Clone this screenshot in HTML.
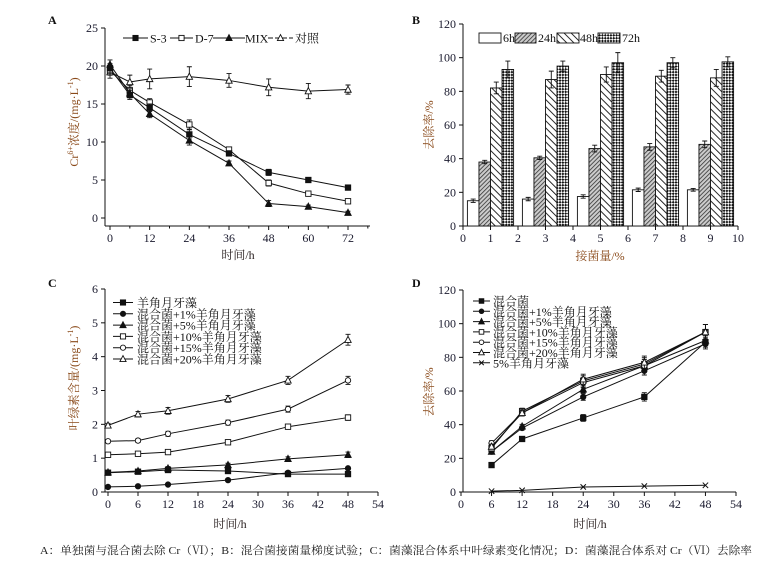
<!DOCTYPE html>
<html><head><meta charset="utf-8"><style>
html,body{margin:0;padding:0;background:#fff;}
svg{display:block;font-family:"Liberation Serif","Noto Serif CJK SC",serif;}
.tk{font-size:12px;fill:#1a1a2e;}
.ttl{font-size:12px;fill:#8a4a1a;}
.xttl{font-size:12px;fill:#2a2020;}
.lg{font-size:12px;fill:#111;}
</style></head><body>
<svg id="fig" width="771" height="562" viewBox="0 0 771 562" xmlns="http://www.w3.org/2000/svg">
<defs>
<pattern id="p24" patternUnits="userSpaceOnUse" width="3" height="3" patternTransform="rotate(45)"><rect width="3" height="3" fill="#ccc"/><line x1="0" y1="0" x2="0" y2="3" stroke="#333" stroke-width="1.6"/></pattern>
<pattern id="p48" patternUnits="userSpaceOnUse" width="5" height="5" patternTransform="rotate(-45)"><rect width="5" height="5" fill="#fff"/><line x1="0" y1="0" x2="0" y2="5" stroke="#111" stroke-width="1.8"/></pattern>
<pattern id="p72" patternUnits="userSpaceOnUse" width="4" height="4" patternTransform="rotate(45)"><rect width="4" height="4" fill="#fff"/><rect width="2" height="2" fill="#111"/><rect x="2" y="2" width="2" height="2" fill="#111"/></pattern>
</defs>
<g id="root"></g>
<text x="40" y="554" font-size="11" fill="#222" textLength="712" lengthAdjust="spacingAndGlyphs">A：单独菌与混合菌去除 Cr（Ⅵ）；B：混合菌接菌量梯度试验；C：菌藻混合体系中叶绿素变化情况；D：菌藻混合体系对 Cr（Ⅵ）去除率</text>
</svg>
<script>
// ---- Panel A data ----
const aTimes=[0,6,12,24,36,48,60,72];
const aS3=[19.7,16.2,14.5,11,8.5,6,5,4];
const aD7=[19.4,16.8,15.2,12.3,9,4.6,3.2,2.2];
const aMIX=[20.2,16.4,13.7,10.2,7.2,1.9,1.5,0.7];
const aCtrl=[19.2,17.9,18.3,18.6,18.1,17.2,16.7,16.9];
const aCtrlErr=[0.8,0.9,1.3,1.3,0.9,1.1,1,0.6];
const aErr=[0.6,0.6,0.5,0.6,0.3,0.4,0.2,0.2];
const aXTicks=[0,12,24,36,48,60,72];
const aYTicks=[0,5,10,15,20,25];
// ---- Panel B data ----
const bGroups=[1,3,5,7,9];
const b6=[15,16,17.5,21.5,21.5];
const b24=[38,40.5,46,47,48.5];
const b48=[82,87,90,89,88];
const b72=[93,95,97,97,97.5];
const b6e=[1,1,1,1,0.8];
const b24e=[1,1,2,2,2];
const b48e=[3.5,5,4.5,3.5,5];
const b72e=[5,3,6,3,3];
const bXTicks=[0,1,2,3,4,5,6,7,8,9,10];
const bYTicks=[0,20,40,60,80,100,120];
// ---- Panel C data ----
const cTimes=[0,6,12,24,36,48];
const cAlgae=[0.57,0.6,0.65,0.62,0.53,0.53];
const c1=[0.15,0.17,0.22,0.35,0.57,0.7];
const c5=[0.58,0.62,0.7,0.8,0.98,1.1];
const c10=[1.1,1.13,1.18,1.47,1.93,2.2];
const c15=[1.5,1.52,1.72,2.05,2.45,3.3];
const c20=[1.97,2.3,2.4,2.75,3.3,4.5];
const cXTicks=[0,6,12,18,24,30,36,42,48,54];
const cYTicks=[0,1,2,3,4,5,6];
// ---- Panel D data ----
const dTimes=[6,12,24,36,48];
const dMix=[16,31.5,44,56.5,89];
const d1=[24,38,56.5,72,88];
const d5=[24,39,61,75,90];
const d10=[26,48,66,76,95];
const d15=[29,47,65,75,95];
const d20=[27,47,67,77,95];
const dAlgae5=[0.5,1,3,3.5,4];
const dXTicks=[0,6,12,18,24,30,36,42,48,54];
const dYTicks=[0,20,40,60,80,100,120];

const NS="http://www.w3.org/2000/svg";
const root=document.getElementById('root');
function el(tag,attrs,parent,txt){const e=document.createElementNS(NS,tag);for(const k in attrs)e.setAttribute(k,attrs[k]);if(txt!==undefined)e.textContent=txt;(parent||root).appendChild(e);return e;}
function lin(d0,d1,p0,p1){return v=>p0+(v-d0)*(p1-p0)/(d1-d0);}

function axes(g,o){
  el('line',{x1:o.x0,y1:o.axY,x2:o.x1,y2:o.axY,stroke:'#111','stroke-width':1},g);
  el('line',{x1:o.axX,y1:o.y0,x2:o.axX,y2:o.y1,stroke:'#111','stroke-width':1},g);
  o.xt.forEach(t=>{el('line',{x1:o.X(t),y1:o.axY,x2:o.X(t),y2:o.axY+4,stroke:'#111'},g);
    const tx=el('text',{x:o.X(t),y:o.axY+16,'text-anchor':'middle',class:'tk'},g,t);
    });
  if(o.xminor) o.xminor.forEach(t=>el('line',{x1:o.X(t),y1:o.axY,x2:o.X(t),y2:o.axY+2.5,stroke:'#111'},g));
  o.yt.forEach(t=>{el('line',{x1:o.axX-4,y1:o.Y(t),x2:o.axX,y2:o.Y(t),stroke:'#111'},g);
    const ty=el('text',{x:o.axX-7,y:o.Y(t)+4,'text-anchor':'end',class:'tk'},g,t);
    });
  const xt=el('text',{x:o.xtX,y:o.xtY,'text-anchor':'middle',class:o.xcls||'xttl'},g,o.xtitle);
  
  const yt=el('text',{x:0,y:0,'text-anchor':'middle',class:'ttl',transform:`translate(${o.ytX},${o.ytY}) rotate(-90)`},g);
  yt.innerHTML=o.ytitle;
  
  const pl=el('text',{x:o.lx,y:o.ly,'font-size':12,'font-weight':'bold',fill:'#111'},g,o.label);
  
}
function marker(g,type,x,y,s){
  s=s||2.7;const fill=type.startsWith('o')?'#fff':'#111';
  let m;
  if(type.endsWith('sq')) m=el('rect',{x:x-s,y:y-s,width:2*s,height:2*s,fill,stroke:'#111','stroke-width':0.9},g);
  else if(type.endsWith('ci')) m=el('circle',{cx:x,cy:y,r:s,fill,stroke:'#111','stroke-width':0.9},g);
  else if(type.endsWith('tr')) m=el('polygon',{points:`${x},${y-s-0.8} ${x-s-0.5},${y+s} ${x+s+0.5},${y+s}`,fill,stroke:'#111','stroke-width':0.9},g);
  else m=el('path',{d:`M${x-s} ${y-s}L${x+s} ${y+s}M${x-s} ${y+s}L${x+s} ${y-s}`,stroke:'#111','stroke-width':1},g);
  
}
function series(g,X,Y,xs,ys,type,name,err,dash){
  const sg=el('g',{},g);
  
  el('polyline',{points:xs.map((x,i)=>X(x)+','+Y(ys[i])).join(' '),fill:'none',stroke:'#111','stroke-width':1,'stroke-dasharray':dash||'none'},sg);
  if(err) xs.forEach((x,i)=>{const e=err[i];const px=X(x);
    el('path',{d:`M${px} ${Y(ys[i]-e)}V${Y(ys[i]+e)}M${px-2.5} ${Y(ys[i]-e)}h5M${px-2.5} ${Y(ys[i]+e)}h5`,stroke:'#111','stroke-width':0.9,fill:'none'},sg);});
  xs.forEach((x,i)=>marker(sg,type,X(x),Y(ys[i])));
}
function legendRow(g,x1,x2,y,type,text,tx,dash,name,ms){
  const lg=el('g',{},g);
  
  el('line',{x1,y1:y,x2,y2:y,stroke:'#111','stroke-width':1,'stroke-dasharray':dash||'none'},lg);
  marker(lg,type,(x1+x2)/2,y,ms||2.6);
  el('text',{x:tx,y:y+4.5,class:'lg'},lg,text);
}

// ===== Panel A =====
(function(){
  const g=el('g',{});
  const X=lin(0,72,110,348),Y=lin(0,25,218,28);
  axes(g,{X,Y,x0:105,x1:370,axY:226,axX:105,y0:226,y1:28,xt:aXTicks,xminor:[6,18,30,42,54,66,78].filter(v=>X(v)<=370),yt:aYTicks,
    xtitle:'时间/h',xtX:238,xtY:259,ytitle:'Cr<tspan font-size="8" dy="-5">6+</tspan><tspan dy="5">浓度/(mg·L</tspan><tspan font-size="8" dy="-5">-1</tspan><tspan dy="5">)</tspan>',ytX:78,ytY:122,label:'A',lx:48,ly:24});
  series(g,X,Y,aTimes,aCtrl,'otr','series-control',aCtrlErr);
  series(g,X,Y,aTimes,aD7,'osq','series-d7',aErr);
  series(g,X,Y,aTimes,aS3,'fsq','series-s3',aErr);
  series(g,X,Y,aTimes,aMIX,'ftr','series-mix',aErr);
  legendRow(g,123,148,38,'fsq','S-3',150,null,'legend-s3');
  legendRow(g,170,193,38,'osq','D-7',195,null,'legend-d7');
  legendRow(g,213,245,38,'ftr','MIX',245,null,'legend-mix');
  legendRow(g,268,293,38,'otr','对照',295,'5,2','legend-control');
})();

// ===== Panel B =====
(function(){
  const g=el('g',{});
  const X=lin(0,10,463,738),Y=lin(0,120,226,24);
  axes(g,{X,Y,x0:463,x1:738,axY:226,axX:463,y0:226,y1:24,xt:bXTicks,yt:bYTicks,xcls:'ttl',
    xtitle:'接菌量/%',xtX:600,xtY:260,ytitle:'去除率/%',ytX:433,ytY:125,label:'B',lx:412,ly:24});
  const sets=[[b6,b6e,'#fff','6h'],[b24,b24e,'url(#p24)','24h'],[b48,b48e,'url(#p48)','48h'],[b72,b72e,'url(#p72)','72h']];
  const w=0.42;
  sets.forEach((s,si)=>{
    const sg=el('g',{},g);
    bGroups.forEach((c,i)=>{
      const x0=X(c-0.84+si*w),x1=X(c-0.84+(si+1)*w);
      const r=el('rect',{x:x0,y:Y(s[0][i]),width:x1-x0,height:Y(0)-Y(s[0][i]),fill:s[2],stroke:'#111','stroke-width':0.9},sg);
      
      const cx=(x0+x1)/2,e=s[1][i];
      el('path',{d:`M${cx} ${Y(s[0][i]-e)}V${Y(s[0][i]+e)}M${cx-2.5} ${Y(s[0][i]-e)}h5M${cx-2.5} ${Y(s[0][i]+e)}h5`,stroke:'#111','stroke-width':0.9},sg);
    });
  });
  const lx=[[479,501,503],[515,536,538],[557,579,580],[598,620,622]];
  sets.forEach((s,si)=>{
    const lg=el('g',{},g);
    el('rect',{x:lx[si][0],y:33,width:lx[si][1]-lx[si][0],height:10,fill:s[2],stroke:'#111','stroke-width':0.9},lg);
    el('text',{x:lx[si][2],y:42,class:'lg'},lg,s[3]);
  });
})();

// ===== Panel C =====
(function(){
  const g=el('g',{});
  const X=lin(0,54,108,378),Y=lin(0,6,492,289);
  axes(g,{X,Y,x0:105,x1:378,axY:492,axX:105,y0:492,y1:289,xt:cXTicks,yt:cYTicks,
    xtitle:'时间/h',xtX:230,xtY:528,ytitle:'叶绿素含量/(mg·L<tspan font-size="8" dy="-5">-1</tspan><tspan dy="5">)</tspan>',ytX:78,ytY:378,label:'C',lx:48,ly:287});
  const e=[0.03,0.04,0.05,0.05,0.06,0.08];
  series(g,X,Y,cTimes,cAlgae,'fsq','series-algae',null);
  series(g,X,Y,cTimes,c1,'fci','series-mix-1pct',null);
  series(g,X,Y,cTimes,c5,'ftr','series-mix-5pct',e);
  series(g,X,Y,cTimes,c10,'osq','series-mix-10pct',e);
  series(g,X,Y,cTimes,c15,'oci','series-mix-15pct',e.map(v=>v*1.5));
  series(g,X,Y,cTimes,c20,'otr','series-mix-20pct',e.map(v=>v*2));
  const rows=[['fsq','羊角月牙藻'],['fci','混合菌+1%羊角月牙藻'],['ftr','混合菌+5%羊角月牙藻'],['osq','混合菌+10%羊角月牙藻'],['oci','混合菌+15%羊角月牙藻'],['otr','混合菌+20%羊角月牙藻']];
  rows.forEach((r,i)=>legendRow(g,113,133,302.5+i*11.3,r[0],r[1],137,null,'legend-c-'+i));
})();

// ===== Panel D =====
(function(){
  const g=el('g',{});
  const X=lin(0,54,461,736),Y=lin(0,120,492,290);
  axes(g,{X,Y,x0:463,x1:736,axY:492,axX:463,y0:492,y1:290,xt:dXTicks,yt:dYTicks,
    xtitle:'时间/h',xtX:590,xtY:528,ytitle:'去除率/%',ytX:433,ytY:392,label:'D',lx:412,ly:287});
  const e=[1,1.2,2,2.5,3];
  series(g,X,Y,dTimes,dAlgae5,'x','series-algae-5pct',null);
  series(g,X,Y,dTimes,dMix,'fsq','series-mix',e);
  series(g,X,Y,dTimes,d1,'fci','series-mix-1pct',e);
  series(g,X,Y,dTimes,d5,'ftr','series-mix-5pct',e);
  series(g,X,Y,dTimes,d10,'osq','series-mix-10pct',e.map(v=>v*1.5));
  series(g,X,Y,dTimes,d15,'oci','series-mix-15pct',e.map(v=>v*1.5));
  series(g,X,Y,dTimes,d20,'otr','series-mix-20pct',e.map(v=>v*1.5));
  const rows=[['fsq','混合菌'],['fci','混合菌+1%羊角月牙藻'],['ftr','混合菌+5%羊角月牙藻'],['osq','混合菌+10%羊角月牙藻'],['oci','混合菌+15%羊角月牙藻'],['otr','混合菌+20%羊角月牙藻'],['x','  5%羊角月牙藻']];
  rows.forEach((r,i)=>legendRow(g,473,490,301+i*10.3,r[0],r[1],493,null,'legend-d-'+i,2.3));
})();
</script>
</body></html>
